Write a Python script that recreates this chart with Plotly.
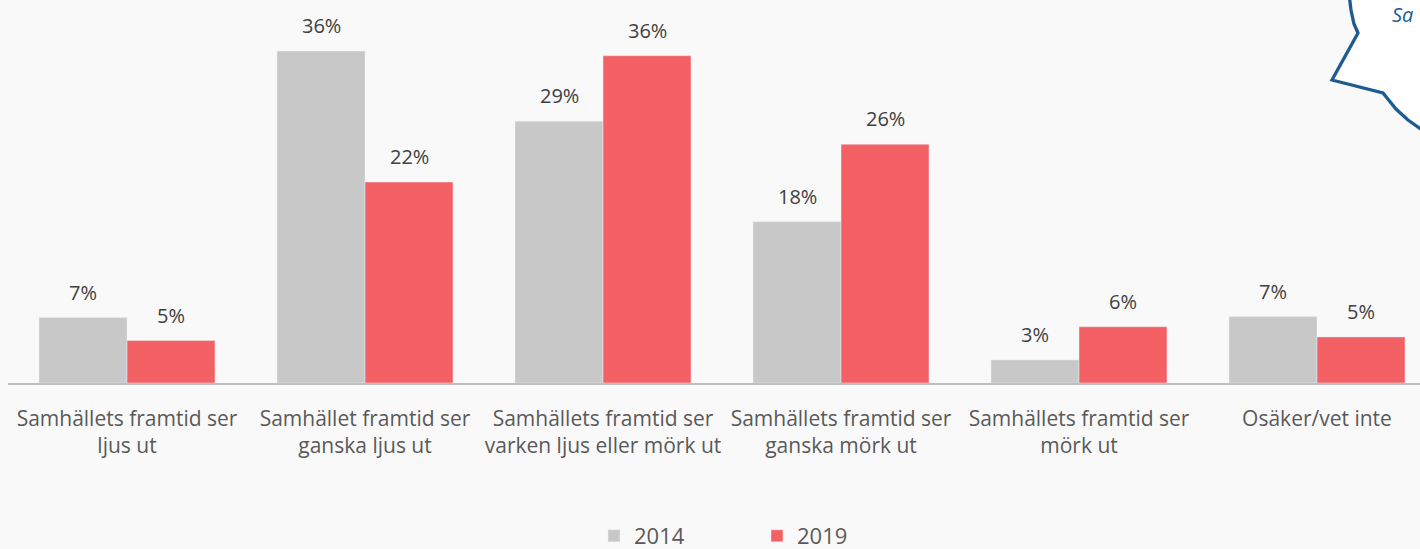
import plotly.graph_objects as go

categories = [
    "Samhällets framtid ser<br>ljus ut",
    "Samhället framtid ser<br>ganska ljus ut",
    "Samhällets framtid ser<br>varken ljus eller mörk ut",
    "Samhällets framtid ser<br>ganska mörk ut",
    "Samhällets framtid ser<br>mörk ut",
    "Osäker/vet inte",
]
values_2014 = [7.1, 36.0, 28.4, 17.5, 2.5, 7.2]
values_2019 = [4.6, 21.8, 35.5, 25.9, 6.1, 5.0]
labels_2014 = ["7%", "36%", "29%", "18%", "3%", "7%"]
labels_2019 = ["5%", "22%", "36%", "26%", "6%", "5%"]

GRAY = "#c8c8c8"
RED = "#f46165"
TXT = "#595959"
BG = "#f9f9f9"

W, H = 1420, 549
PL, PR, PT, PB = 8, 1420, 10, 383  # plot area in pixels


def px(x):
    return (x - PL) / (PR - PL)


def py(y):
    return (PB - y) / (PB - PT)


fig = go.Figure()
fig.add_trace(go.Bar(name="2014", x=categories, y=values_2014, marker_color=GRAY))
fig.add_trace(go.Bar(name="2019", x=categories, y=values_2019, marker_color=RED))

annotations = []
for cat, v, t in zip(categories, values_2014, labels_2014):
    annotations.append(dict(x=cat, y=v, text=t, xref="x", yref="y", showarrow=False,
                            xshift=-44, yshift=10, yanchor="bottom",
                            font=dict(family="Open Sans", size=20, color="#404040")))
for cat, v, t in zip(categories, values_2019, labels_2019):
    annotations.append(dict(x=cat, y=v, text=t, xref="x", yref="y", showarrow=False,
                            xshift=44, yshift=10, yanchor="bottom",
                            font=dict(family="Open Sans", size=20, color="#404040")))

# decorative speech bubble fragment at the top right
pts = [(1349, -6), (1351, 10), (1354, 24), (1358, 33), (1332, 80), (1383, 93),
       (1396, 109), (1408, 120), (1422, 130), (1440, 140), (1440, -6)]
path = "M " + " L ".join(f"{px(x):.5f},{py(y):.5f}" for x, y in pts) + " Z"
shapes = [dict(type="path", xref="paper", yref="paper", path=path,
               fillcolor="white", line=dict(color="#1f5b8e", width=3.3), layer="above")]
annotations.append(dict(x=px(1390), y=py(14), xref="paper", yref="paper", text="<i>Sa</i>",
                        showarrow=False, xanchor="left", yanchor="middle",
                        font=dict(family="Open Sans", size=20, color="#1f5b8e")))

fig.update_layout(
    width=W, height=H,
    margin=dict(l=PL, r=W - PR, t=PT, b=H - PB, autoexpand=False),
    paper_bgcolor=BG, plot_bgcolor=BG,
    barmode="group", bargap=62 / 238, bargroupgap=0,
    showlegend=True,
    legend=dict(orientation="h", x=px(594), xanchor="left", y=py(536), yanchor="middle",
                font=dict(family="Open Sans", size=22, color=TXT),
                entrywidth=118, entrywidthmode="pixels", bgcolor="rgba(0,0,0,0)"),
    annotations=annotations,
    shapes=shapes,
    xaxis=dict(range=[-0.5, -0.5 + (PR - PL) / 238], showline=True, linecolor="#bfbfbf",
               linewidth=1.5, showgrid=False, ticks="", ticklabelstandoff=16,
               tickfont=dict(family="Open Sans", size=21, color=TXT), fixedrange=True),
    yaxis=dict(range=[0, (PB - PT) / 9.22], visible=False, showgrid=False, zeroline=False),
)

fig.write_html("out.html", config={"displayModeBar": False},
               post_script="document.body.style.margin='0';document.body.style.overflow='hidden';")
